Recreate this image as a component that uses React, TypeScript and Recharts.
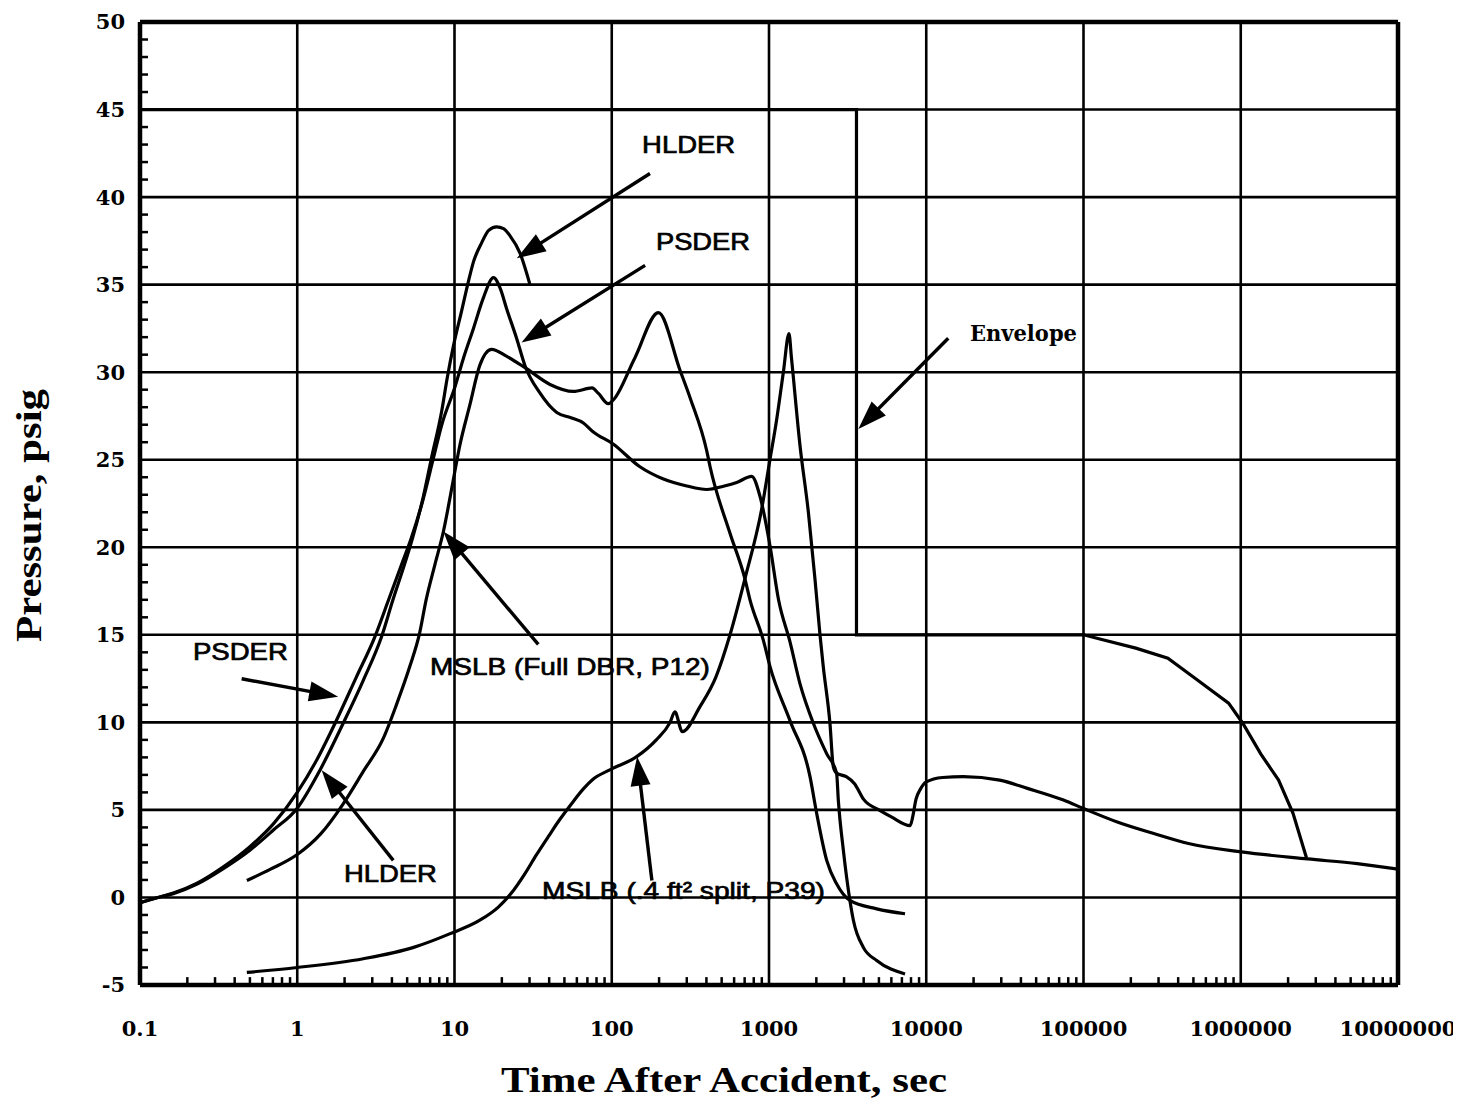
import React from 'react';
import { LineChart, Line, XAxis, YAxis, CartesianGrid, ReferenceLine, ReferenceDot } from 'recharts';

type Pt = { t: number; p: number };
const toPts = (a: number[][]): Pt[] => a.map(([t, p]) => ({ t, p }));

// axis ticks
const xTicks = [0.1, 1, 10, 100, 1000, 10000, 100000, 1000000, 10000000];
const xTickLabels = ['0.1', '1', '10', '100', '1000', '10000', '100000', '1000000', '10000000'];
const yTicks = [-5, 0, 5, 10, 15, 20, 25, 30, 35, 40, 45, 50];
const minorMultipliers = [2, 3, 4, 5, 6, 7, 8, 9];
const xMinorTicks: number[] = [];
xTicks.slice(0, -1).forEach((d) => minorMultipliers.forEach((m) => xMinorTicks.push(+(d * m).toPrecision(3))));
const yMinorTicks: number[] = [];
for (let v = -4; v < 50; v++) if (v % 5 !== 0) yMinorTicks.push(v);

// series: [time (s), pressure (psig)]
const psder = toPts([
  [0.1, -0.3], [0.13, 0.0], [0.163, 0.25], [0.229, 0.8], [0.339, 1.75], [0.5, 2.9], [0.705, 4.2],
  [1.0, 6.0], [1.33, 7.85], [1.74, 9.95], [2.38, 12.6], [3.12, 14.9], [3.81, 17.0], [4.6, 19.0],
  [5.3, 20.5], [6.3, 22.7], [7.3, 25.0], [8.3, 27.0], [10.1, 29.2], [11.4, 30.8], [13.2, 32.5],
  [15.2, 34.2], [17.7, 35.4], [19.5, 34.8], [21.5, 33.6], [24.9, 31.9], [28, 30.4], [35, 28.8],
  [44.7, 27.7], [55, 27.4], [66, 27.1], [76, 26.6], [102, 25.9], [151, 24.6], [213, 23.9],
  [300, 23.5], [402, 23.3], [520, 23.5], [623, 23.7], [776, 24.05], [877, 22.9], [1014, 20.1],
  [1150, 17.0], [1360, 14.6], [1575, 12.2], [1914, 9.95], [2330, 8.2], [2690, 7.1], [2760, 5.55],
  [2970, 2.7], [3270, -0.17], [3440, -1.3], [3980, -2.85], [4840, -3.6], [7330, -4.37],
]);

const hlder = toPts([
  [0.1, -0.3], [0.13, 0.0], [0.163, 0.22], [0.229, 0.75], [0.339, 1.65], [0.5, 2.7], [0.705, 3.85],
  [1.0, 5.1], [1.4, 7.3], [1.96, 9.95], [2.63, 12.4], [3.44, 14.9], [4.06, 17.0], [4.8, 19.0],
  [5.4, 20.5], [6.3, 22.8], [7.1, 25.0], [8.3, 27.8], [9.0, 29.7], [9.9, 31.6], [11.1, 33.5],
  [12.2, 35.1], [13.2, 36.3], [14.9, 37.4], [16.5, 38.1], [18.5, 38.3], [20.5, 38.2], [22.5, 37.8],
  [26.1, 36.8], [30.2, 35.0],
]);

const mslbFullDer = toPts([
  [0.478, 0.97], [0.672, 1.6], [1.0, 2.45], [1.4, 3.6], [1.96, 5.35], [2.63, 7.2], [3.53, 9.1],
  [4.27, 11.0], [5.2, 13.2], [6.0, 15.1], [6.6, 17.0], [7.5, 19.0], [8.5, 20.9], [9.85, 23.9],
  [10.8, 25.8], [12.5, 28.1], [14.5, 30.4], [17.2, 31.3], [21.5, 30.9], [28.7, 30.2], [40.5, 29.3],
  [57, 28.9], [75, 29.1], [82, 28.8], [95, 28.2], [102, 28.4], [140, 30.8], [198, 33.4], [272, 30.1],
  [316, 28.5], [402, 25.5], [422, 24.6], [565, 20.8], [703, 18.2], [757, 17.0], [920, 14.7],
  [1014, 13.2], [1360, 10.1], [1823, 6.9], [2010, 4.8], [2330, 2.1], [2690, 0.78], [3270, -0.17],
  [4840, -0.65], [7330, -0.93],
]);

const mslbSplit = toPts([
  [0.478, -4.28], [1.0, -4.0], [2.63, -3.5], [5.5, -2.85], [9.3, -2.08], [14.5, -1.3], [19, -0.55],
  [23, 0.25], [28, 1.35], [33, 2.4], [40, 3.55], [46.7, 4.45], [56, 5.4], [66, 6.2], [76, 6.75],
  [98, 7.3], [144, 8.04], [192, 9.0], [235, 10.0], [252, 10.6], [281, 9.47], [364, 10.9], [460, 12.6],
  [565, 15.0], [703, 18.2], [899, 22.2], [1014, 25.0], [1119, 27.3], [1234, 30.0], [1340, 32.2],
  [1390, 30.8], [1575, 25.8], [1780, 22.0], [1960, 18.2], [2110, 15.0], [2213, 13.2], [2441, 9.95],
  [2565, 7.46], [2690, 7.1], [3100, 6.9], [3500, 6.5], [4000, 5.6], [5000, 5.0], [6000, 4.6],
  [7900, 4.1], [8200, 4.6], [8600, 5.6], [9200, 6.2], [10000, 6.6], [12700, 6.85], [17200, 6.9],
  [29300, 6.7], [44000, 6.23], [74600, 5.56], [100000, 5.08], [164000, 4.31], [280000, 3.65],
  [465000, 3.08], [1010000, 2.6], [2660000, 2.2], [5500000, 1.93], [10000000, 1.62],
]);

const envelope = toPts([
  [0.1, 45], [3600, 45], [3600, 15], [100000, 15], [127000, 14.76], [215000, 14.24], [344000, 13.67],
  [497000, 12.6], [837000, 11.1], [1030000, 9.95], [1340000, 8.2], [1740000, 6.7], [2150000, 4.8],
  [2620000, 2.25],
]);

// annotation arrows: [tail t, tail p, tip t, tip p]
const arrows = [
  [175, 41.35, 24.9, 36.5],
  [163, 36.1, 26.7, 31.7],
  [13800, 31.94, 3700, 26.75],
  [0.443, 12.49, 1.82, 11.47],
  [4.08, 2.12, 1.43, 7.27],
  [34.1, 14.45, 8.5, 20.9],
  [180, 0.97, 145, 8.04],
];

// annotation labels: text anchored (left, baseline) at [t, p]
const labelTexts = ['HLDER', 'PSDER', 'Envelope', 'PSDER', 'MSLB (Full DBR, P12)', 'HLDER', 'MSLB (.4 ft² split, P39)'];
const labelAnchors = [
  [156, 42.5], [191, 37.0], [18970, 31.8], [0.217, 13.57], [6.98, 12.7], [1.98, 0.86], [36, -0.06],
];

const labelLengths = [93, 94, 107, 95, 280, 93, 283];
const labelSerif = [false, false, true, false, false, false, false];

const INK = '#000';

const ArrowShape = (props: any) => {
  const { x1, y1, x2, y2 } = props;
  const dx = x2 - x1;
  const dy = y2 - y1;
  const len = Math.hypot(dx, dy) || 1;
  const ux = dx / len;
  const uy = dy / len;
  const hl = 29;
  const hw = 10;
  const bx = x2 - ux * hl;
  const by = y2 - uy * hl;
  const pts = `${x2},${y2} ${bx - uy * hw},${by + ux * hw} ${bx + uy * hw},${by - ux * hw}`;
  return (
    <g>
      <line x1={x1} y1={y1} x2={bx + ux * 4} y2={by + uy * 4} stroke={INK} strokeWidth={3.4} />
      <polygon points={pts} fill={INK} />
    </g>
  );
};

const makeLabel = (i: number) => (p: any) => (
  <text
    x={p.cx}
    y={p.cy}
    fontFamily={labelSerif[i] ? 'DejaVu Serif' : 'Liberation Sans'}
    fontSize={labelSerif[i] ? 22 : 24}
    fontWeight={labelSerif[i] ? 700 : 400}
    textLength={labelLengths[i]}
    lengthAdjust="spacingAndGlyphs"
    fill={INK}
    stroke={INK}
    strokeWidth={labelSerif[i] ? 0 : 0.7}
  >
    {labelTexts[i]}
  </text>
);

const XTitle = (props: any) => {
  const vb = props.viewBox || { x: 132, y: 977, width: 1258, height: 70 };
  return (
    <text
      x={vb.x + vb.width / 2 - 45}
      y={vb.y + 107}
      textAnchor="middle"
      fontFamily="Liberation Serif"
      fontWeight={700}
      fontSize={35}
      textLength={446}
      lengthAdjust="spacingAndGlyphs"
      fill={INK}
    >
      Time After Accident, sec
    </text>
  );
};

const YTitle = (props: any) => {
  const vb = props.viewBox || { x: 32, y: 14, width: 100, height: 963 };
  const cx = vb.x + 1;
  const cy = vb.y + vb.height / 2 + 12;
  return (
    <text
      x={cx}
      y={cy}
      transform={`rotate(-90 ${cx} ${cy})`}
      textAnchor="middle"
      fontFamily="Liberation Serif"
      fontWeight={700}
      fontSize={36}
      textLength={253}
      lengthAdjust="spacingAndGlyphs"
      fill={INK}
    >
      Pressure, psig
    </text>
  );
};

const tickFont = { fontFamily: 'DejaVu Serif', fontSize: 21, fontWeight: 700, fill: INK };

export default function App() {
  const series = [psder, hlder, mslbFullDer, mslbSplit, envelope];
  return (
    <div style={{ width: 1453, height: 1100, background: '#fff' }}>
      <LineChart width={1453} height={1100} margin={{ top: 14, right: 63, bottom: 53, left: 32 }}>
        <CartesianGrid stroke={INK} strokeWidth={2.6} />
        <XAxis
          dataKey="t"
          type="number"
          scale="log"
          domain={[0.1, 10000000]}
          ticks={xTicks}
          allowDataOverflow
          height={70}
          axisLine={false}
          tickLine={false}
          tickSize={0}
          tickMargin={36}
          tick={tickFont}
          tickFormatter={(v: number) => xTickLabels[xTicks.indexOf(v)] ?? String(v)}
          interval={0}
          label={XTitle}
        />
        <YAxis
          type="number"
          domain={[-5, 50]}
          ticks={yTicks}
          allowDataOverflow
          width={100}
          axisLine={false}
          tickLine={false}
          tickSize={0}
          tickMargin={15}
          tick={tickFont}
          interval={0}
          label={YTitle}
        />
        {xMinorTicks.map((v) => (
          <ReferenceLine key={'xm' + v} segment={[{ x: v, y: -5 }, { x: v, y: -4.55 }]} stroke={INK} strokeWidth={2.5} />
        ))}
        {yMinorTicks.map((v) => (
          <ReferenceLine key={'ym' + v} segment={[{ x: 0.1, y: v }, { x: 0.1124, y: v }]} stroke={INK} strokeWidth={2.5} />
        ))}
        <ReferenceLine x={0.1} stroke={INK} strokeWidth={4.5} />
        <ReferenceLine x={10000000} stroke={INK} strokeWidth={4.5} />
        <ReferenceLine y={-5} stroke={INK} strokeWidth={4.5} />
        <ReferenceLine y={50} stroke={INK} strokeWidth={4.5} />
        {series.map((d, i) => (
          <Line
            key={'s' + i}
            data={d}
            dataKey="p"
            type={i === 4 ? 'linear' : 'monotone'}
            stroke={INK}
            strokeWidth={3.2}
            dot={false}
            activeDot={false}
            isAnimationActive={false}
          />
        ))}
        {arrows.map((a, i) => (
          <ReferenceLine
            key={'a' + i}
            segment={[{ x: a[0], y: a[1] }, { x: a[2], y: a[3] }]}
            shape={ArrowShape}
          />
        ))}
        {labelAnchors.map((a, i) => (
          <ReferenceDot key={'l' + i} x={a[0]} y={a[1]} r={0} shape={makeLabel(i)} />
        ))}
      </LineChart>
    </div>
  );
}
